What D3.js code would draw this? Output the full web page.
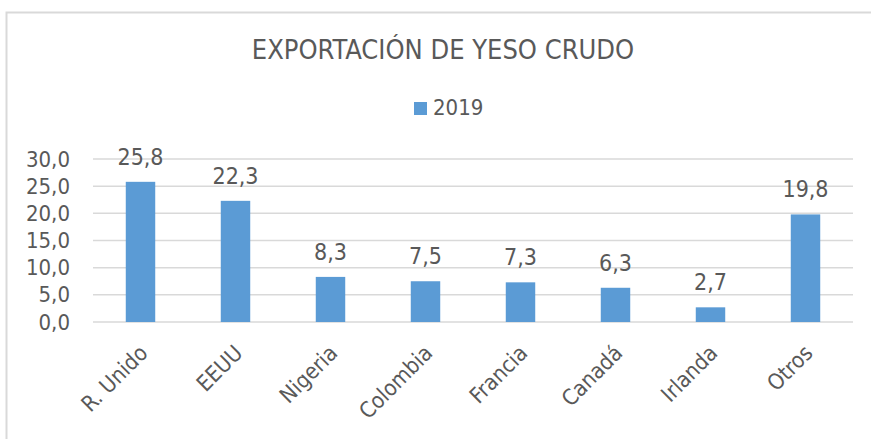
<!DOCTYPE html>
<html>
<head>
<meta charset="utf-8">
<script src="https://cdn.jsdelivr.net/npm/d3@7"></script>
<style>
  body { margin: 0; background: #fff; }
  text { font-family: "DejaVu Sans Condensed", "DejaVu Sans", sans-serif; fill: #595959; }
</style>
</head>
<body>
<div id="chart"></div>
<script>
const categories = ["R. Unido", "EEUU", "Nigeria", "Colombia", "Francia", "Canadá", "Irlanda", "Otros"];
const values2019 = [25.8, 22.3, 8.3, 7.5, 7.3, 6.3, 2.7, 19.8];
const yTicks = [0, 5, 10, 15, 20, 25, 30];
const seriesName = "2019";
const title = "EXPORTACIÓN DE YESO CRUDO";

const W = 871, H = 439;
const margin = {top: 159, right: 18, bottom: 117, left: 93};
const width = W - margin.left - margin.right;
const height = H - margin.top - margin.bottom;
const fmt = v => d3.format(".1f")(v).replace(".", ",");

const root = d3.select("#chart").append("svg")
  .attr("width", W)
  .attr("height", H);

// chart frame
root.append("rect")
  .attr("x", 6.5).attr("y", 12.5)
  .attr("width", W + 10).attr("height", H + 10)
  .attr("fill", "none")
  .attr("stroke", "#d9d9d9")
  .attr("stroke-width", 2);

root.append("text")
  .attr("x", 443).attr("y", 59)
  .attr("text-anchor", "middle")
  .style("font-size", "27px")
  .text(title);

// legend
const legend = root.append("g").attr("transform", "translate(414, 102)");
legend.append("rect")
  .attr("width", 13).attr("height", 13)
  .attr("fill", "#5b9bd5");
legend.append("text")
  .attr("x", 19).attr("y", 13)
  .style("font-size", "22px")
  .text(seriesName);

const svg = root.append("g")
  .attr("transform", `translate(${margin.left}, ${margin.top})`);

const x = d3.scaleBand()
  .domain(categories)
  .range([0, width])
  .paddingInner(0.69)
  .paddingOuter(0.345);
const y = d3.scaleLinear()
  .domain([0, 30])
  .range([height, 0]);

// gridlines
svg.append("g")
  .selectAll("line")
  .data(yTicks)
  .join("line")
  .attr("x1", 0).attr("x2", width)
  .attr("y1", d => y(d)).attr("y2", d => y(d))
  .attr("stroke", "#d9d9d9")
  .attr("stroke-width", 1.5);

const yAxis = d3.axisLeft(y).tickValues(yTicks).tickFormat(fmt).tickSize(0).tickPadding(23);
svg.append("g")
  .call(yAxis)
  .call(g => g.select(".domain").remove())
  .selectAll("text")
  .attr("fill", "#595959")
  .style("font-size", "22px")
  .style("font-family", "'DejaVu Sans Condensed', sans-serif");

svg.selectAll(".bar")
  .data(values2019)
  .join("rect")
  .attr("class", "bar")
  .attr("x", (d, i) => x(categories[i]))
  .attr("y", d => y(d))
  .attr("width", x.bandwidth())
  .attr("height", d => y(0) - y(d))
  .attr("fill", "#5b9bd5");

svg.selectAll(".lbl")
  .data(values2019)
  .join("text")
  .attr("class", "lbl")
  .attr("x", (d, i) => x(categories[i]) + x.bandwidth() / 2)
  .attr("y", d => y(d) - 17)
  .attr("text-anchor", "middle")
  .style("font-size", "23px")
  .text(fmt);

const xAxis = d3.axisBottom(x).tickSize(0).tickPadding(0);
svg.append("g")
  .attr("transform", `translate(0, ${height})`)
  .call(xAxis)
  .call(g => g.select(".domain").remove())
  .selectAll("text")
  .attr("fill", "#595959")
  .style("font-size", "22px")
  .style("font-family", "'DejaVu Sans Condensed', sans-serif")
  .attr("text-anchor", "end")
  .attr("dy", "0.35em")
  .attr("transform", "translate(3, 27) rotate(-45)");
</script>
</body>
</html>
